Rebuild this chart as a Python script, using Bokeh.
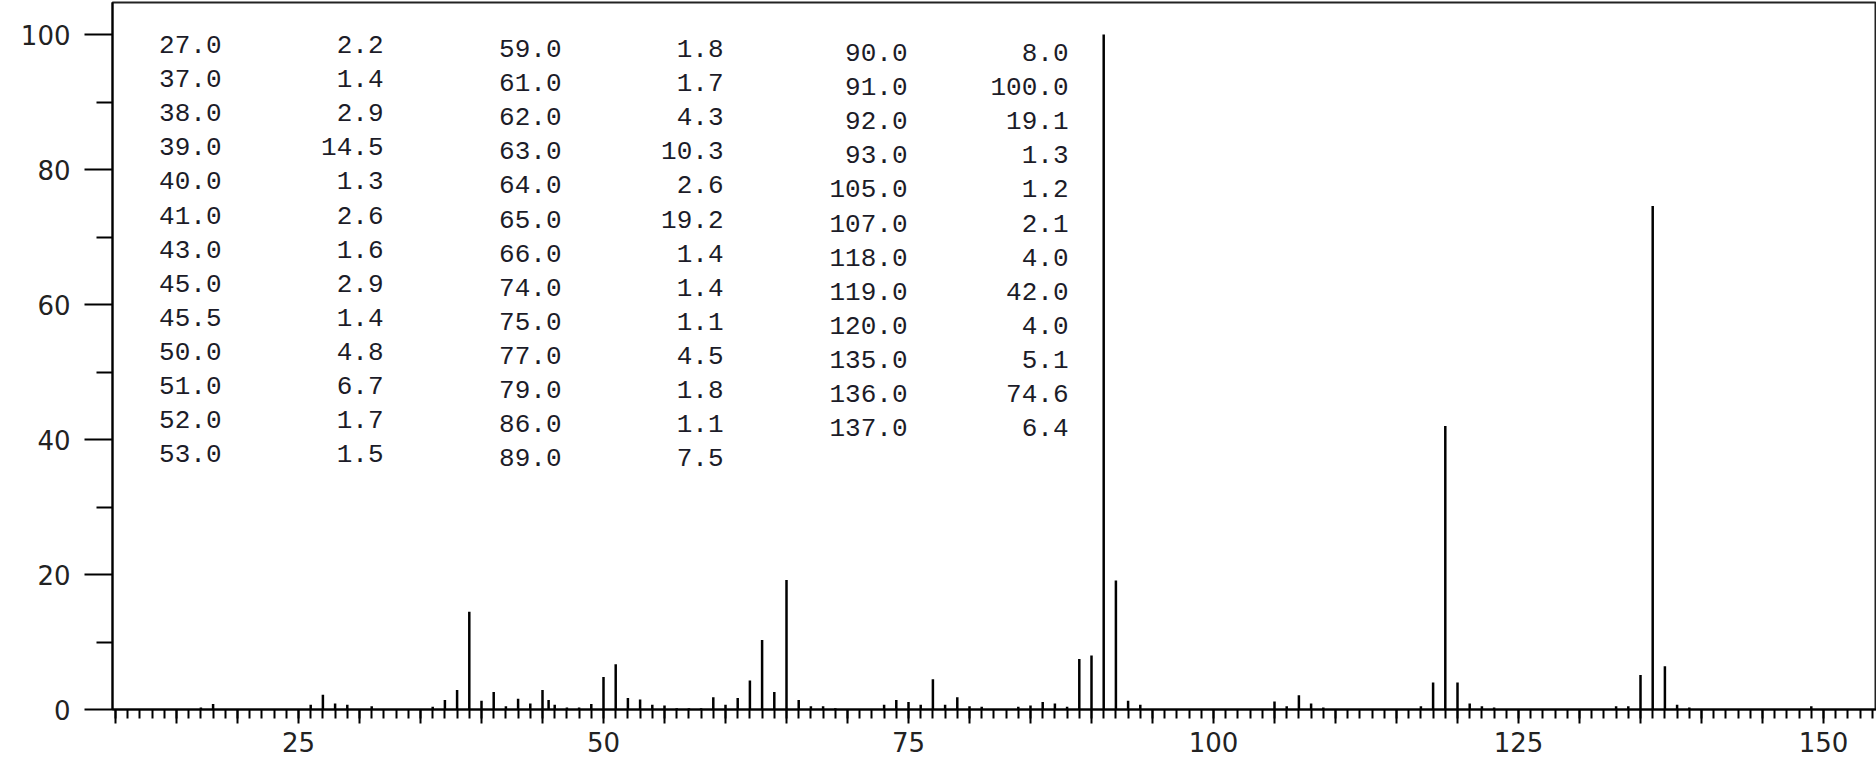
from bokeh.plotting import figure
from bokeh.models import Range1d, FixedTicker, ColumnDataSource
from bokeh.core.properties import value
from bokeh.embed import file_html
from bokeh.resources import INLINE

# ---- data: listed peaks (m/z, relative intensity) ----
mz_g1 = [27.0, 37.0, 38.0, 39.0, 40.0, 41.0, 43.0, 45.0, 45.5, 50.0, 51.0, 52.0, 53.0]
int_g1 = [2.2, 1.4, 2.9, 14.5, 1.3, 2.6, 1.6, 2.9, 1.4, 4.8, 6.7, 1.7, 1.5]
mz_g2 = [59.0, 61.0, 62.0, 63.0, 64.0, 65.0, 66.0, 74.0, 75.0, 77.0, 79.0, 86.0, 89.0]
int_g2 = [1.8, 1.7, 4.3, 10.3, 2.6, 19.2, 1.4, 1.4, 1.1, 4.5, 1.8, 1.1, 7.5]
mz_g3 = [90.0, 91.0, 92.0, 93.0, 105.0, 107.0, 118.0, 119.0, 120.0, 135.0, 136.0, 137.0]
int_g3 = [8.0, 100.0, 19.1, 1.3, 1.2, 2.1, 4.0, 42.0, 4.0, 5.1, 74.6, 6.4]

# small unlisted peaks (< 1 %)
minor_mz = [17, 18, 26, 28, 29, 31, 36, 42, 44, 46, 47, 48, 49, 54, 55, 56, 57, 58, 60,
            67, 68, 69, 73, 76, 78, 80, 81, 84, 85, 87, 88, 94, 106, 108, 109, 117,
            121, 122, 123, 133, 134, 138, 139, 149]
minor_int = [0.3, 0.8, 0.7, 0.9, 0.7, 0.5, 0.4, 0.5, 0.9, 0.7, 0.3, 0.3, 0.8, 0.7, 0.6, 0.2, 0.2, 0.2, 0.7,
             0.5, 0.5, 0.2, 0.7, 0.7, 0.7, 0.5, 0.4, 0.4, 0.6, 0.9, 0.4, 0.7, 0.5, 0.9, 0.3, 0.5,
             0.9, 0.5, 0.3, 0.5, 0.5, 0.7, 0.3, 0.5]

x_major = [25, 50, 75, 100, 125, 150]
y_major = [0, 20, 40, 60, 80, 100]

# ---- geometry (page pixels) ----
W, H = 1876, 766
FRAME_L, FRAME_R, FRAME_T, FRAME_B = 112, 1876, 2, 709
PX_PER_X = 12.2
PX_PER_Y = 6.75
X0 = 25 - (298 - FRAME_L) / PX_PER_X
X1 = X0 + (FRAME_R - FRAME_L) / PX_PER_X
Y1 = (FRAME_B - FRAME_T) / PX_PER_Y

def dx(px):
    return X0 + (px - FRAME_L) / PX_PER_X

def dy(py):
    return (FRAME_B - py) / PX_PER_Y

p = figure(width=W, height=H, output_backend="svg", toolbar_location=None,
           x_range=Range1d(X0, X1), y_range=Range1d(0, Y1),
           min_border_left=FRAME_L, min_border_right=W - FRAME_R, min_border_top=FRAME_T,
           min_border_bottom=H - FRAME_B)
p.grid.visible = False
p.outline_line_color = "#222222"
p.outline_line_width = 2
p.background_fill_color = "white"
p.border_fill_color = "white"

# x axis
xt = list(range(10, 155, 5))
p.xaxis.ticker = FixedTicker(ticks=xt, minor_ticks=list(range(10, 155)))
p.xaxis.major_label_overrides = {t: ("" if t not in x_major else str(t)) for t in xt}
p.xaxis.major_tick_out = 14
p.xaxis.major_tick_in = 0
p.xaxis.minor_tick_out = 9
p.xaxis.minor_tick_in = 0
p.xaxis.axis_line_width = 2
p.xaxis.major_tick_line_width = 2
p.xaxis.minor_tick_line_width = 2
p.xaxis.axis_line_color = "black"
p.xaxis.major_tick_line_color = "black"
p.xaxis.minor_tick_line_color = "black"
p.xaxis.major_label_text_font = "DejaVu Sans"
p.xaxis.major_label_text_font_size = "26px"
p.xaxis.major_label_text_color = "#222222"
p.xaxis.major_label_standoff = 8

# y axis
p.yaxis.ticker = FixedTicker(ticks=y_major, minor_ticks=[10, 30, 50, 70, 90])
p.yaxis.major_tick_out = 28
p.yaxis.major_tick_in = 0
p.yaxis.minor_tick_out = 16
p.yaxis.minor_tick_in = 0
p.yaxis.axis_line_width = 2
p.yaxis.major_tick_line_width = 2
p.yaxis.minor_tick_line_width = 2
p.yaxis.axis_line_color = "black"
p.yaxis.major_tick_line_color = "black"
p.yaxis.minor_tick_line_color = "black"
p.yaxis.major_label_text_font = "DejaVu Sans"
p.yaxis.major_label_text_font_size = "26px"
p.yaxis.major_label_text_color = "#222222"
p.yaxis.major_label_standoff = 14

# bars
all_mz = mz_g1 + mz_g2 + mz_g3
all_int = int_g1 + int_g2 + int_g3
p.segment(x0=minor_mz, y0=0, x1=minor_mz, y1=minor_int, line_color="black", line_width=2.5)
p.segment(x0=all_mz, y0=0, x1=all_mz, y1=all_int, line_color="black", line_width=2.5)

# peak table text
groups = [(mz_g1, int_g1, 221, 383, 44), (mz_g2, int_g2, 561, 723, 48), (mz_g3, int_g3, 907, 1068, 52)]
ROW = 34.1
for mzs, ints, mz_right, int_right, row0 in groups:
    ys = [dy(row0 + ROW * i) for i in range(len(mzs))]
    src = ColumnDataSource(dict(
        xm=[dx(mz_right)] * len(mzs), xi=[dx(int_right)] * len(mzs), y=ys,
        tm=[f"{m:.1f}" for m in mzs], ti=[f"{v:.1f}" for v in ints]))
    for xcol, tcol in (("xm", "tm"), ("xi", "ti")):
        p.text(x=xcol, y="y", text=tcol, source=src, text_align="right", text_baseline="middle",
               text_font=value("Liberation Mono"), text_font_size=value("26px"), text_color="#1c1c28")

open("out.html", "w").write(file_html(p, INLINE))
